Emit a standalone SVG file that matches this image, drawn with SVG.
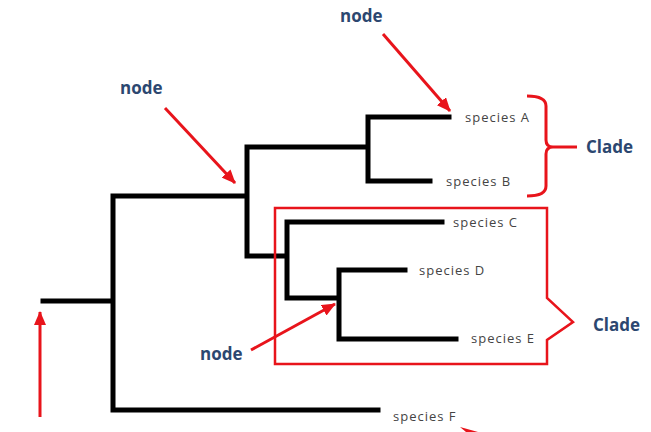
<svg xmlns="http://www.w3.org/2000/svg" width="651" height="432" viewBox="0 0 651 432">
<defs>
<marker id="ah" markerWidth="14" markerHeight="12" refX="13" refY="6" orient="auto" markerUnits="userSpaceOnUse">
<path d="M0,0 L14,6 L0,12 Z" fill="#e8141b"/>
</marker>
<style>
.tree{stroke:#000;stroke-width:5;fill:none;stroke-linecap:square}
.red{stroke:#e8141b;fill:none}
.arr{stroke:#e8141b;stroke-width:3;fill:none}
.sp{font-family:"Open Sans","Liberation Sans",sans-serif;font-size:13px;fill:#444;letter-spacing:1px}
.lab{font-family:"Open Sans","Liberation Sans",sans-serif;font-size:17px;font-weight:bold;fill:#2c4770}
</style>
</defs>
<rect width="651" height="432" fill="#fff"/>
<g id="connectors">
<path class="tree" d="M43,301 H113 M113,196 V410 H378 M113,196 H247 V256 H287 M247,147 V196 M247,147 H368 M368,117 V181 M368,117 H449 M368,181 H430 M287,222 V298 H339 M287,222 H442 M339,270 V339 M339,270 H405 M339,339 H456"/>
</g>
<g id="species-A"><text class="sp" x="465" y="122">species A</text></g>
<g id="species-B"><text class="sp" x="446" y="186">species B</text></g>
<g id="species-C"><text class="sp" x="453" y="227">species C</text></g>
<g id="species-D"><text class="sp" x="419" y="275">species D</text></g>
<g id="species-E"><text class="sp" x="471" y="343">species E</text></g>
<g id="species-F"><text class="sp" x="393" y="421">species F</text></g>
<g id="clade-AB">
<path class="red" stroke-width="3" d="M527,96 Q546,96 546,106 L546,140 Q546,147 553,147 Q546,147 546,154 L546,186 Q546,196 527,196 M551,147 L577,147"/>
<text class="lab" x="586" y="153">Clade</text>
</g>
<g id="clade-CDE">
<path class="red" stroke-width="2.5" d="M275,208 L547,208 L547,298 L573,322 L547,340 L547,364 L275,364 Z"/>
<text class="lab" x="593" y="331">Clade</text>
</g>
<g id="node-top">
<text class="lab" x="340" y="22">node</text>
<line class="arr" x1="383" y1="34" x2="450" y2="111" marker-end="url(#ah)"/>
</g>
<g id="node-left">
<text class="lab" x="120" y="94">node</text>
<line class="arr" x1="165" y1="108" x2="235" y2="183" marker-end="url(#ah)"/>
</g>
<g id="node-bottom">
<text class="lab" x="200" y="360">node</text>
<line class="arr" x1="251" y1="350" x2="335" y2="304" marker-end="url(#ah)"/>
</g>
<g id="root-arrow">
<line class="arr" x1="40" y1="417" x2="40" y2="312" marker-end="url(#ah)"/>
</g>
<g id="bottom-mark">
<path d="M460,427 L478,432 L466,432 Z" fill="#e8141b"/>
</g>
</svg>
